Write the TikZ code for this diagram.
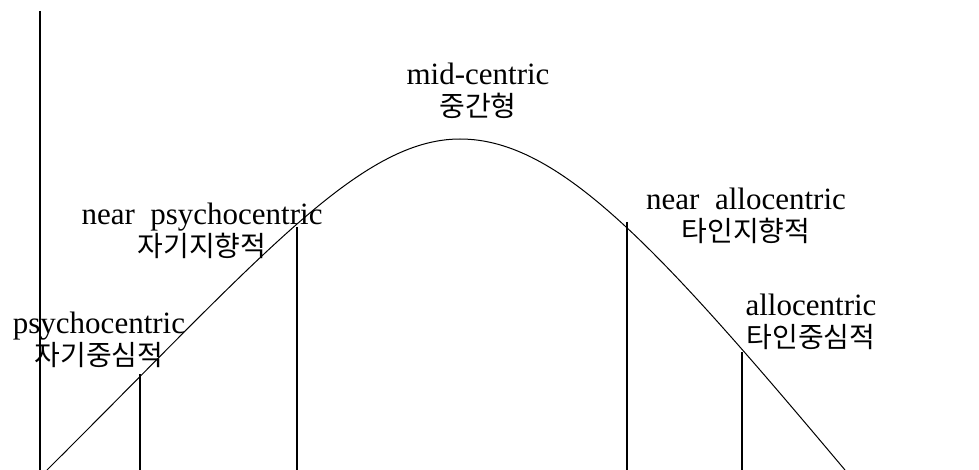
\documentclass[tikz,border=0pt]{standalone}
\usepackage{fontspec}
\setmainfont{Liberation Serif}
\newfontfamily\krfont{Noto Sans CJK KR}
\newcommand\kor[1]{{\krfont\fontsize{28}{32}\selectfont #1}}

\begin{document}
\begin{tikzpicture}[x=1pt, y=-1pt, line width=1.2pt,
  lbl/.style={align=center, inner sep=0pt, font=\fontsize{31}{32}\selectfont}]
  \useasboundingbox (0,0) rectangle (979,470);
  \coordinate (Top) at (40,11);
  \coordinate (Bot) at (40,470);
  \coordinate (L) at (47,470);
  \coordinate (Pk) at (460,139);
  \coordinate (R) at (845,470);
  \coordinate (A) at (140,374);  \coordinate (Ab) at (140,470);
  \coordinate (B) at (297,227);  \coordinate (Bb) at (297,470);
  \coordinate (C) at (627,222);  \coordinate (Cb) at (627,470);
  \coordinate (D) at (742,352);  \coordinate (Db) at (742,470);

  % bell curve
  \draw[line width=1pt] (L) .. controls (260,258) and (360,139) .. (Pk)
    .. controls (560,139) and (660,250) .. (R);

  \draw (Top) -- (Bot);
  \draw (A) -- (Ab);
  \draw (B) -- (Bb);
  \draw (C) -- (Cb);
  \draw (D) -- (Db);

  \node[lbl] (psy) at (99,340) {psychocentric\\\kor{자기중심적}};
  \node[lbl] (npsy) at (202,231) {near\ \ psychocentric\\\kor{자기지향적}};
  \node[lbl] (mid) at (478,91) {mid-centric\\\kor{중간형}};
  \node[lbl] (nallo) at (746,216) {near\ \ allocentric\\\kor{타인지향적}};
  \node[lbl] (allo) at (811,322) {allocentric\\\kor{타인중심적}};
\end{tikzpicture}
\end{document}
